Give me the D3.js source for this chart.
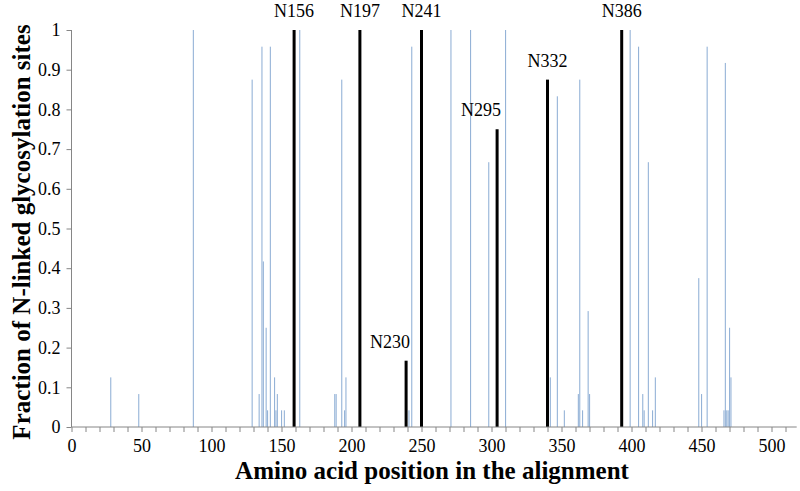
<!DOCTYPE html>
<meta charset="utf-8">
<script src="https://d3js.org/d3.v7.min.js"></script>
<style>
body { margin: 0; background: #fff; }
text { font-family: "Liberation Serif", "Times New Roman", serif; }
</style>
<body>
<script>

// alignment positions and fractions (light blue = other sites, black = labelled glycans)
var sitePos = [28, 48, 87, 129, 134, 136, 137, 139, 140, 142, 145, 146, 147, 150, 152, 163,
  188, 189, 193, 195, 196, 241, 243, 271, 285, 298, 310, 342, 347, 352, 362, 363, 365, 369, 370,
  399, 405, 408, 409, 412, 415, 417, 448, 450, 454, 466, 467, 468, 469, 470, 471];
var siteVal = [0.125, 0.083, 1, 0.875, 0.083, 0.958, 0.417, 0.25, 0.042, 0.958, 0.125, 0.042, 0.083, 0.042, 0.042, 1,
  0.083, 0.083, 0.875, 0.042, 0.125, 0.042, 0.958, 1, 1, 0.667, 1, 0.125, 0.833, 0.042, 0.083, 0.875, 0.042, 0.292, 0.083,
  1, 0.958, 0.083, 0.042, 0.667, 0.042, 0.125, 0.375, 0.083, 0.958, 0.042, 0.917, 0.042, 0.042, 0.25, 0.125];
var glycanPos = [159, 206, 239, 250, 304, 340, 393];
var glycanVal = [1, 1, 0.167, 1, 0.75, 0.875, 1];
var glycanName = ["N156", "N197", "N230", "N241", "N295", "N332", "N386"];
var xLabels = [0, 50, 100, 150, 200, 250, 300, 350, 400, 450, 500];
var yLabels = [0, 0.1, 0.2, 0.3, 0.4, 0.5, 0.6, 0.7, 0.8, 0.9, 1];

var width = 800, height = 491;
var x = d3.scaleLinear().domain([0, 518]).range([71.5, 796.7]);
var y = d3.scaleLinear().domain([0, 1]).range([427, 30]);

var svg = d3.select("body").append("svg")
    .attr("width", width)
    .attr("height", height);

// bars
svg.append("g").selectAll("rect")
    .data(sitePos.map(function(p, i) { return {pos: p, val: siteVal[i]}; }))
    .enter().append("rect")
    .attr("x", function(d) { return x(d.pos) - 0.5; })
    .attr("y", function(d) { return y(d.val); })
    .attr("width", 1.1)
    .attr("height", function(d) { return y(0) - y(d.val); })
    .style("fill", "#95b3d7");

var glycans = glycanPos.map(function(p, i) { return {pos: p, val: glycanVal[i], name: glycanName[i]}; });
svg.append("g").selectAll("rect")
    .data(glycans)
    .enter().append("rect")
    .attr("x", function(d) { return x(d.pos) - 1.5; })
    .attr("y", function(d) { return y(d.val); })
    .attr("width", 3)
    .attr("height", function(d) { return y(0) - y(d.val); })
    .style("fill", "#000");

// labels over black bars
svg.append("g").selectAll("text")
    .data(glycans)
    .enter().append("text")
    .attr("x", function(d) { return (d.name == "N230" || d.name == "N295") ? x(d.pos) + 4 : x(d.pos); })
    .attr("y", function(d) { return y(d.val) - 13; })
    .attr("text-anchor", function(d) { return (d.name == "N230" || d.name == "N295") ? "end" : "middle"; })
    .style("font-size", "18px")
    .text(function(d) { return d.name; });

// axes
var xAxis = d3.axisBottom(x).tickValues(d3.range(0, 518, 10)).tickSize(5)
    .tickFormat(function(d) { return xLabels.indexOf(d) >= 0 ? d : ""; });
var gx = svg.append("g").attr("transform", "translate(0," + y(0) + ")").call(xAxis);
gx.select(".domain").attr("d", "M" + x(0) + ",0H" + x(518)).style("stroke", "#868686");
gx.selectAll(".tick line").style("stroke", "#868686");
gx.selectAll(".tick text").attr("y", 12).style("font-size", "18px").style("fill", "#000");

var yAxis = d3.axisLeft(y).tickValues(yLabels).tickSize(5).tickFormat(d3.format("~g"));
var gy = svg.append("g").attr("transform", "translate(" + x(0) + ",0)").call(yAxis);
gy.select(".domain").attr("d", "M0," + y(0) + "V" + y(1)).style("stroke", "#868686");
gy.selectAll(".tick line").style("stroke", "#868686");
gy.selectAll(".tick text").attr("x", -11).style("font-size", "18px").style("fill", "#000");

// titles
svg.append("text")
    .attr("x", 432).attr("y", 479)
    .attr("text-anchor", "middle")
    .style("font-size", "25px").style("font-weight", "bold")
    .text("Amino acid position in the alignment");

svg.append("text")
    .attr("transform", "translate(30,232) rotate(-90)")
    .attr("text-anchor", "middle")
    .style("font-size", "25px").style("font-weight", "bold")
    .text("Fraction of N-linked glycosylation sites");

</script>
</body>
</html>
